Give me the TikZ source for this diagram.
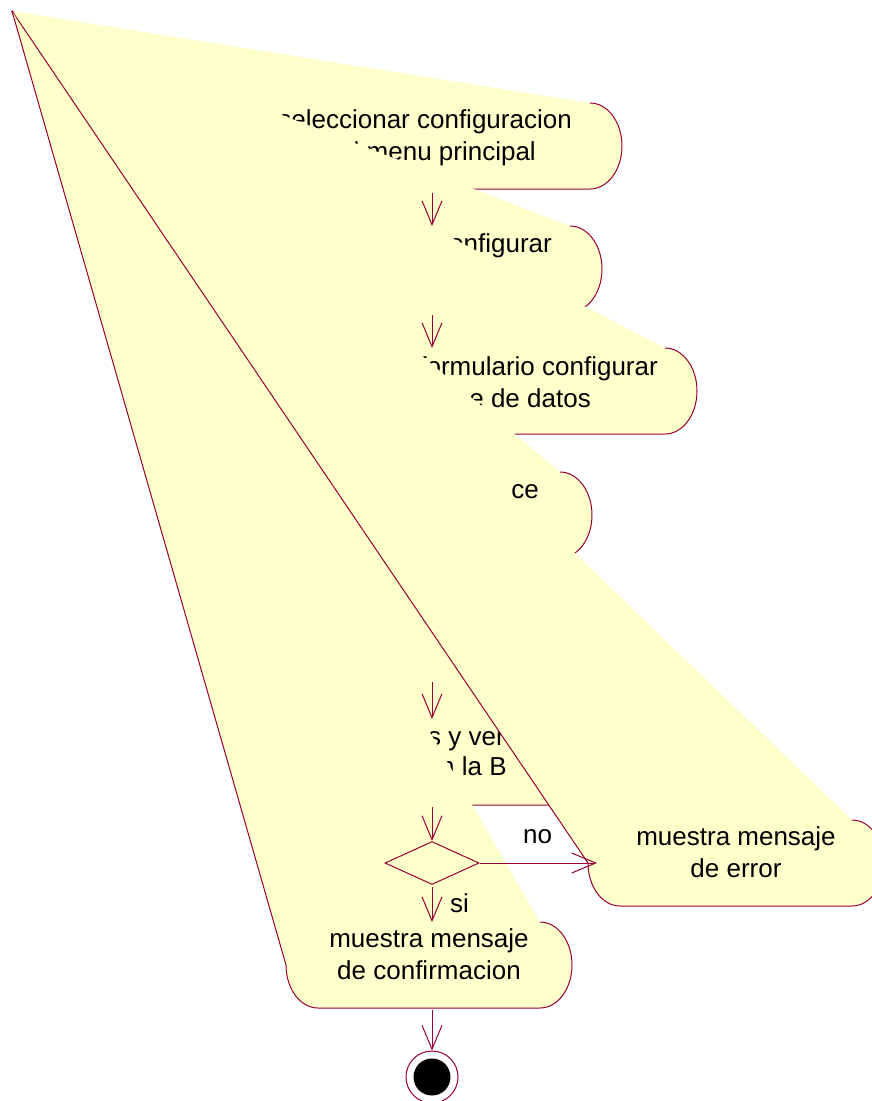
\documentclass[tikz,border=0pt]{standalone}
\usepackage{fontspec}
\setmainfont{Liberation Sans}
\usetikzlibrary{shapes.geometric,arrows.meta}
\definecolor{rosefill}{RGB}{255,255,204}
\definecolor{roseline}{RGB}{153,0,51}
\tikzset{
  linea/.style={draw=roseline, line width=1pt},
  flecha/.style={linea, -{Straight Barb[length=24pt,width=20pt]}},
  texto/.style={inner sep=0pt, font=\fontsize{26}{32}\selectfont, align=center},
  decision/.style={diamond, linea, fill=rosefill, minimum width=94pt, minimum height=43pt, inner sep=0pt}
}
% estado: nombre, arco derecho (x,y), esquina inferior izquierda x
\newcommand{\actividad}[4]{%
  \fill[rosefill] (12,11) -- (#2,#3) arc[start angle=-90,end angle=90,x radius=32,y radius=43]
    -- (#4,#3+86) arc[start angle=90,end angle=180,x radius=32,y radius=43] -- cycle;
  \draw[linea] (#2,#3) arc[start angle=-90,end angle=90,x radius=32,y radius=43]
    -- (#4,#3+86) arc[start angle=90,end angle=180,x radius=32,y radius=43] -- (12,11);
  \coordinate (#1-n) at (432,#3);
  \coordinate (#1-s) at (432,#3+86);
}

\begin{document}
\begin{tikzpicture}[x=1pt,y=-1pt]
\useasboundingbox (0,0) rectangle (871,1101);

\actividad{sel}{590}{103}{274}
\node[texto, anchor=base east] (sel-a) at (572,128) {seleccionar configuracion};
\node[texto, anchor=base east] (sel-b) at (536,160) {l menu principal};

\actividad{conf}{570}{226}{294}
\node[texto, anchor=base east] (conf-a) at (552,252) {onfigurar};

\actividad{form}{665}{348}{199}
\node[texto, anchor=base east] (form-a) at (658,375) {formulario configurar};
\node[texto, anchor=base east] (form-b) at (591,407) {e de datos};

\actividad{intro}{560}{472}{304}
\coordinate (datos-s) at (432,682);

\actividad{verif}{560}{719}{304}
\node[texto, anchor=base west] (verif-a) at (428,745) {s y ver};
\node[texto, anchor=base west] (verif-b) at (440,775) {n la B};

\actividad{error}{852}{820}{620}
\node[texto, anchor=base] (error-t) at (736,877) {muestra mensaje\\de error};
\node[texto, anchor=base east] (intro-a) at (539,498) {ce};
\coordinate (error-w) at (597,863);

\actividad{ok}{540}{922}{318}
\node[texto, anchor=base] (ok-t) at (429,979) {muestra mensaje\\de confirmacion};

% decision y final
\node[decision] (dec) at (432,863) {};
\node[circle, linea, fill=white, minimum size=52pt, inner sep=0pt] (fin) at (432,1077) {};
\node[circle, fill=black, minimum size=37pt, inner sep=0pt] at (fin) {};

\draw[flecha, shorten <=4pt] (sel-s) -- (conf-n);
\draw[flecha, shorten <=3pt] (conf-s) -- (form-n);
\draw[flecha] (datos-s) -- (verif-n);
\draw[flecha, shorten <=2pt] (verif-s) -- (dec.north);
\draw[flecha, shorten <=2pt] (dec.south) -- (ok-n);
\draw[flecha] (dec.east) -- (error-w);
\draw[flecha, shorten <=2pt] (ok-s) -- (fin.north);
\node[texto, anchor=base west] (si) at (450,912) {si};
\node[texto, anchor=base west] (no) at (523,843) {no};
\end{tikzpicture}
\end{document}
